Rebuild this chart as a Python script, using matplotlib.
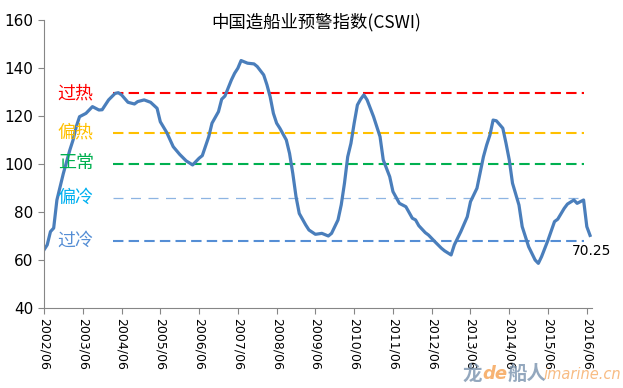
import matplotlib
matplotlib.use('Agg')
import matplotlib.pyplot as plt

plt.rcParams['font.family'] = ['DejaVu Sans', 'Noto Sans CJK SC']

# months counted from 2002/06
months = [0, 1, 2, 3, 4, 6, 8, 9, 10, 11, 13, 15, 17, 18, 20, 22, 23,
          24, 26, 28, 29, 31, 33, 35, 36, 38, 40, 42, 44, 46,
          48, 49, 51, 52, 54, 55, 56, 58, 59, 60, 61, 63, 65, 66, 68, 69,
          70, 71, 72, 73, 75, 76, 77, 78, 79, 81, 82, 84, 86, 88, 89, 91,
          92, 93, 94, 95, 96, 97, 98, 99, 100, 102, 104, 105, 107, 108,
          110, 112, 114, 115, 116, 118, 119, 121, 123, 124, 126, 127,
          129, 131, 132, 134, 136, 137, 138, 139, 140, 142, 143, 144,
          145, 147, 148, 150, 152, 153, 154, 156, 158, 159, 161, 162,
          164, 165, 167, 168, 169]
cswi = [64.2, 66.3, 71.8, 73.3, 85.0, 96.1, 105.8, 110.0, 115.6, 119.7,
        121.1, 123.9, 122.5, 122.6, 126.7, 129.4, 129.7,
        128.8, 125.7, 125.0, 126.0, 126.7, 125.7, 123.2, 117.6, 113.1,
        107.2, 104.0, 101.3, 99.6,
        102.4, 103.5, 111.4, 117.0, 121.8, 127.0, 128.3, 135.0, 137.8,
        139.9, 143.1, 142.0, 141.7, 140.6, 137.1, 133.0,
        128.0, 121.1, 117.0, 114.9, 110.0, 104.4, 96.1, 86.4, 79.4, 74.6,
        72.5, 70.7, 71.1, 70.0, 71.1, 76.7,
        83.0, 92.0, 103.0, 108.6, 117.0, 124.6, 127.0, 128.8, 126.7,
        119.7, 111.4, 101.7, 94.7, 88.5,
        83.6, 82.2, 77.4, 76.7, 74.3, 71.4, 70.4, 67.6, 64.9, 63.8, 62.1,
        66.3, 71.8, 78.0, 84.3, 89.9, 103.0, 107.9, 112.0, 118.3, 118.0,
        114.9, 108.6, 101.7,
        92.0, 82.9, 73.9, 65.5, 60.0, 58.6, 61.4, 68.3, 76.0, 77.0, 81.5,
        83.3, 85.0, 83.6, 85.0, 73.9, 70.25]

tick_labels = ['2002/06', '2003/06', '2004/06', '2005/06', '2006/06',
               '2007/06', '2008/06', '2009/06', '2010/06', '2011/06',
               '2012/06', '2013/06', '2014/06', '2015/06', '2016/06']

levels = ['过热', '偏热', '正常', '偏冷', '过冷']
level_values = [129.5, 113, 100, 86, 68]
level_colors = ['#FF0000', '#FFC000', '#00B050', '#00B0F0', '#558ED5']
line_colors = ['#FF0000', '#FFC000', '#00B050', '#8DB4E2', '#558ED5']
line_widths = [1.5, 1.5, 1.5, 0.9, 1.5]

fig = plt.figure(figsize=(6.23, 3.88), dpi=100)
ax = fig.add_axes([0.0706, 0.2062, 0.8791, 0.7423])

for val, lc, lw in zip(level_values, line_colors, line_widths):
    ax.plot([21.5, 167], [val, val], color=lc, lw=lw, dashes=(5, 2.5) if lw > 1 else (8, 6))

for name, val, c in zip(levels, level_values, level_colors):
    ax.text(9.8, val, name, color=c, fontsize=13, ha='center', va='center',
            family=['Noto Sans CJK SC'])

ax.plot(months, cswi, color='#4A7EBB', lw=2.3, solid_joinstyle='round')
ax.annotate('%.2f' % cswi[-1], (months[-1], cswi[-1]), xytext=(-13, -11),
            textcoords='offset points', ha='left', va='center', fontsize=10)

ax.set_xlim(0, 169.5)
ax.set_ylim(40, 160)
ax.set_yticks(range(40, 161, 20))
ax.set_xticks(range(0, 169, 12))
ax.set_xticklabels(tick_labels, rotation=270, fontsize=9)
ax.tick_params(axis='y', labelsize=11, length=4, color='#868686')
ax.tick_params(axis='x', length=4, color='#868686')
for s in ['top', 'right']:
    ax.spines[s].set_visible(False)
for s in ['left', 'bottom']:
    ax.spines[s].set_color('#868686')

fig.text(0.508, 0.943, '中国造船业预警指数(CSWI)', fontsize=12.5, ha='center',
         va='center', family=['Noto Sans CJK SC'])

# watermark
fig.text(0.743, 0.035, '龙', fontsize=14, color='#7A93AE', alpha=0.8,
         va='center', family=['Noto Sans CJK SC'], weight='bold')
fig.text(0.775, 0.035, 'de', fontsize=13, color='#F5A050', alpha=0.8,
         va='center', weight='bold', style='italic')
fig.text(0.815, 0.035, '船人', fontsize=14, color='#7A93AE', alpha=0.8,
         va='center', family=['Noto Sans CJK SC'], weight='bold')
fig.text(0.872, 0.035, 'imarine.cn', fontsize=10.5, color='#F5A050', alpha=0.7,
         va='center', style='italic')

plt.savefig('out.png', dpi=100)
